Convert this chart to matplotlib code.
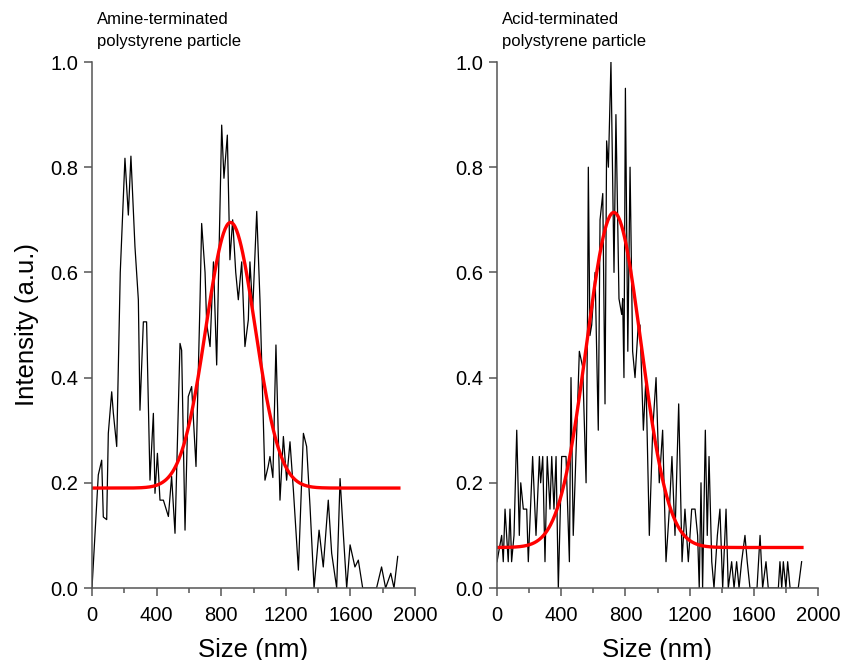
import numpy as np
import matplotlib
matplotlib.use("Agg")
import matplotlib.pyplot as plt

plt.rcParams['font.family'] = ['Liberation Sans', 'DejaVu Sans']

# ---------------- data ----------------
amine_size = [0, 39, 60, 70, 91, 101, 122, 132, 153, 175, 204, 225, 241, 266, 287, 297,
              318, 338, 359, 380, 390, 405, 421, 442, 473, 493, 514, 545, 555, 576, 596,
              617, 644, 669, 679, 700, 710, 731, 752, 772, 803, 817, 838, 854, 871, 890,
              906, 927, 947, 968, 978, 995, 1020, 1040, 1071, 1090, 1102, 1120, 1139,
              1164, 1185, 1205, 1226, 1247, 1278, 1309, 1329, 1350, 1375, 1406, 1432,
              1463, 1484, 1515, 1536, 1556, 1577, 1598, 1628, 1649, 1676, 1762, 1793,
              1818, 1850, 1870, 1893]
amine_int = [0.0, 0.215, 0.243, 0.135, 0.13, 0.294, 0.373, 0.333, 0.269, 0.60, 0.817,
             0.709, 0.821, 0.649, 0.548, 0.338, 0.506, 0.506, 0.205, 0.332, 0.18, 0.256,
             0.167, 0.167, 0.136, 0.212, 0.104, 0.465, 0.452, 0.11, 0.364, 0.383, 0.231,
             0.548, 0.693, 0.60, 0.503, 0.459, 0.62, 0.424, 0.88, 0.779, 0.861, 0.624,
             0.70, 0.60, 0.548, 0.62, 0.459, 0.51, 0.62, 0.528, 0.716, 0.548, 0.205,
             0.23, 0.25, 0.21, 0.462, 0.167, 0.288, 0.205, 0.278, 0.186, 0.034, 0.294,
             0.269, 0.155, 0.0, 0.11, 0.04, 0.167, 0.066, 0.0, 0.208, 0.104, 0.0, 0.082,
             0.04, 0.053, 0.0, 0.0, 0.04, 0.0, 0.028, 0.0, 0.06]

acid_size = [0, 29, 39, 50, 70, 81, 91, 106, 123, 139, 148, 164, 185, 195, 222, 243, 264,
             272, 285, 299, 313, 330, 341, 355, 368, 382, 403, 430, 451, 461, 475, 497,
             513, 534, 555, 565, 569, 579, 590, 611, 631, 642, 659, 673, 683, 694, 710,
             729, 741, 760, 777, 783, 791, 800, 815, 829, 845, 860, 880, 891, 912, 928,
             949, 970, 991, 1011, 1032, 1053, 1074, 1090, 1109, 1132, 1153, 1171, 1192,
             1213, 1234, 1250, 1260, 1271, 1281, 1298, 1310, 1321, 1338, 1352, 1373,
             1389, 1406, 1427, 1441, 1462, 1477, 1493, 1508, 1524, 1545, 1559, 1576,
             1620, 1639, 1655, 1676, 1690, 1753, 1763, 1774, 1784, 1800, 1811, 1826,
             1877, 1898]
acid_int = [0.05, 0.10, 0.05, 0.15, 0.05, 0.15, 0.05, 0.10, 0.30, 0.10, 0.20, 0.15, 0.15,
            0.05, 0.25, 0.10, 0.25, 0.20, 0.25, 0.05, 0.25, 0.15, 0.25, 0.15, 0.25, 0.0,
            0.25, 0.25, 0.05, 0.40, 0.10, 0.30, 0.45, 0.42, 0.20, 0.55, 0.80, 0.48, 0.50,
            0.60, 0.30, 0.70, 0.75, 0.35, 0.85, 0.80, 1.0, 0.60, 0.90, 0.55, 0.52, 0.55,
            0.40, 0.95, 0.45, 0.80, 0.45, 0.40, 0.50, 0.50, 0.30, 0.40, 0.10, 0.30, 0.40,
            0.20, 0.30, 0.05, 0.15, 0.25, 0.10, 0.35, 0.05, 0.15, 0.05, 0.15, 0.15, 0.10,
            0.0, 0.20, 0.0, 0.30, 0.10, 0.25, 0.05, 0.0, 0.10, 0.15, 0.0, 0.15, 0.0, 0.05,
            0.0, 0.05, 0.0, 0.05, 0.10, 0.05, 0.0, 0.0, 0.10, 0.0, 0.05, 0.0, 0.0, 0.05,
            0.0, 0.05, 0.0, 0.05, 0.0, 0.0, 0.05]

# Gaussian fit parameters (baseline, amplitude, centre, sigma)
amine_fit = dict(y0=0.19, A=0.505, xc=858, w=152)
acid_fit = dict(y0=0.077, A=0.637, xc=728, w=170)
fit_range = (0, 1900)

titles = ["Amine-terminated\npolystyrene particle",
          "Acid-terminated\npolystyrene particle"]
xticks = [0, 400, 800, 1200, 1600, 2000]
yticks = [0.0, 0.2, 0.4, 0.6, 0.8, 1.0]

# ---------------- figure ----------------
W, H = 842, 660
fig = plt.figure(figsize=(W / 100, H / 100), dpi=100)

axes_px = [(92, 415), (497, 818)]
top_px, bot_px = 62, 588

datasets = [(amine_size, amine_int, amine_fit), (acid_size, acid_int, acid_fit)]
spine_col = '#555555'

for i, ((xl, xr), (xs, ys, fp), title) in enumerate(zip(axes_px, datasets, titles)):
    ax = fig.add_axes([xl / W, 1 - bot_px / H, (xr - xl) / W, (bot_px - top_px) / H])
    ax.plot(xs, ys, color='black', lw=0.9)
    xf = np.linspace(fit_range[0], fit_range[1], 400)
    yf = fp['y0'] + fp['A'] * np.exp(-(xf - fp['xc']) ** 2 / (2 * fp['w'] ** 2))
    ax.plot(xf, yf, color='#ff0000', lw=2.4)
    ax.set_xlim(0, 2000)
    ax.set_ylim(0, 1.0)
    ax.set_xticks(xticks)
    ax.set_xticks(np.arange(200, 2000, 400), minor=True)
    ax.set_yticks(yticks)
    ax.set_yticklabels([f"{v:.1f}" for v in yticks])
    for s in ['top', 'right']:
        ax.spines[s].set_visible(False)
    for s in ['left', 'bottom']:
        ax.spines[s].set_color(spine_col)
        ax.spines[s].set_linewidth(1.1)
    ax.tick_params(axis='both', which='major', direction='out', length=6, width=1.1,
                   color=spine_col, labelsize=14.5)
    ax.tick_params(axis='x', which='major', pad=7)
    ax.tick_params(axis='y', which='major', pad=4)
    ax.tick_params(axis='both', which='minor', direction='out', length=3.5, width=1.1,
                   color=spine_col)
    ax.set_xlabel("Size (nm)", fontsize=18.5, labelpad=9)
    if i == 0:
        ax.set_ylabel("Intensity (a.u.)", fontsize=18.5, labelpad=8)
    fig.text((xl + 5) / W, 1 - 12 / H, title, ha='left', va='top', fontsize=12,
             linespacing=1.55)

fig.savefig("out.png", dpi=100, facecolor='white')
